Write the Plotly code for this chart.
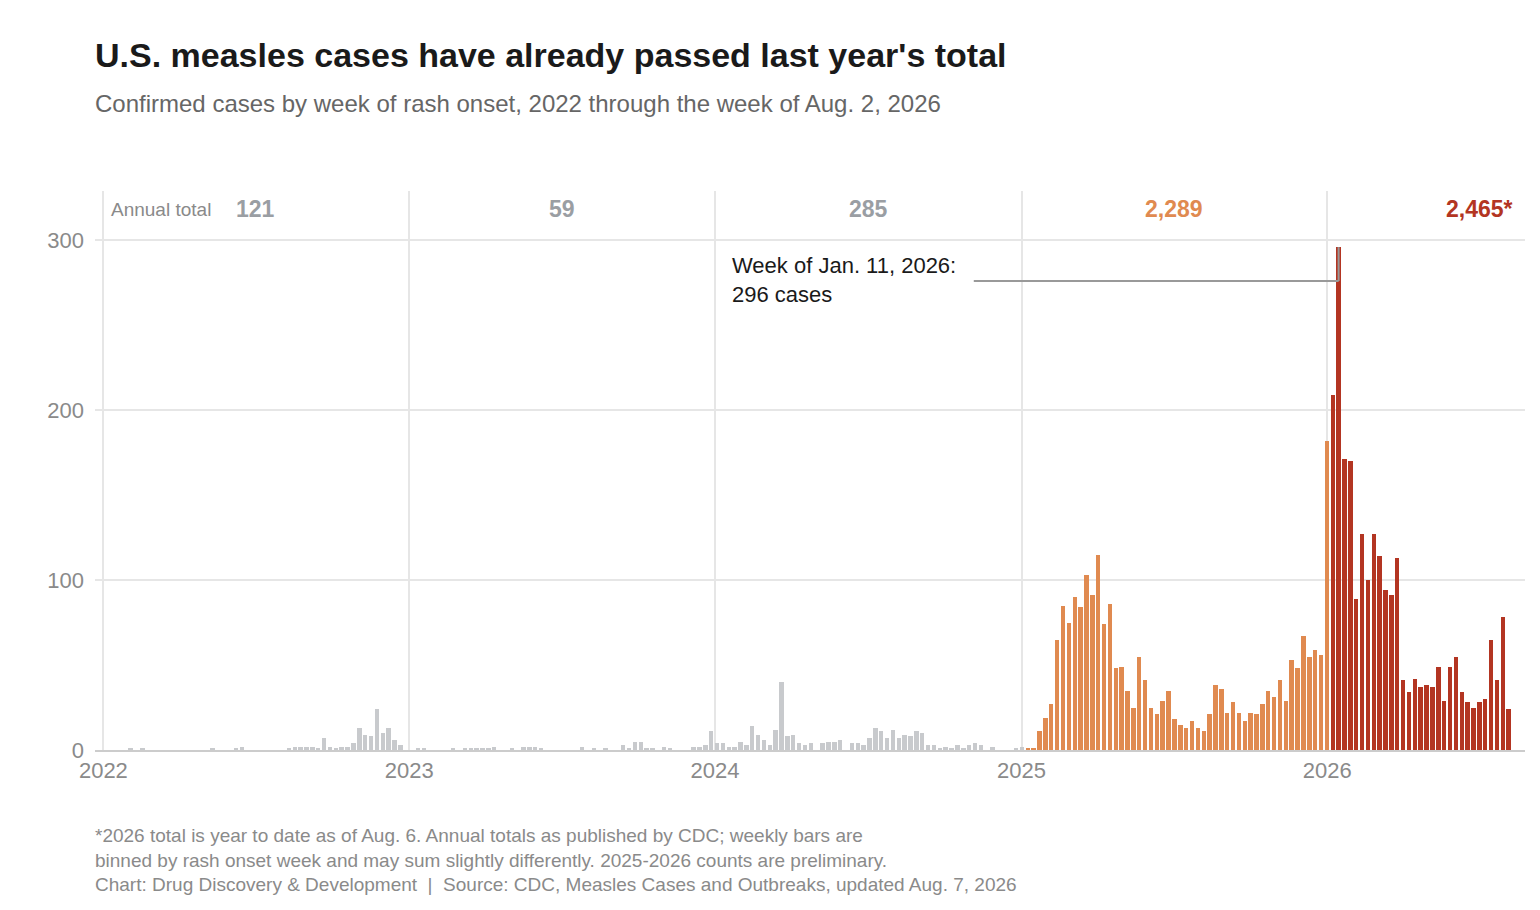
import pandas as pd
import plotly.graph_objects as go

# weekly confirmed cases, week starting Sunday
cases_2022 = [0, 0, 0, 0, 1, 0, 1, 0, 0, 0, 0, 0, 0, 0, 0, 0, 0, 0, 1, 0, 0, 0, 1, 2, 0, 0,
              0, 0, 0, 0, 0, 1, 2, 2, 2, 2, 1, 7, 2, 1, 2, 2, 4, 13, 9, 8, 24, 10, 13, 6, 3, 0]
cases_2023 = [0, 1, 1, 0, 0, 0, 0, 1, 0, 1, 1, 1, 1, 1, 2, 0, 0, 1, 0, 2, 2, 2, 1, 0, 0, 0,
              0, 0, 0, 2, 0, 1, 0, 1, 0, 0, 3, 1, 5, 5, 1, 1, 0, 2, 1, 0, 0, 0, 2, 2, 3, 11, 4]
cases_2024 = [4, 2, 2, 5, 3, 14, 9, 6, 3, 12, 40, 8, 9, 4, 3, 4, 0, 4, 5, 5, 6, 0, 4, 4, 3, 7,
              13, 11, 7, 12, 7, 9, 8, 11, 10, 3, 3, 1, 2, 1, 3, 1, 3, 4, 3, 0, 2, 0, 0, 0, 1, 2]
cases_2025 = [1, 1, 11, 19, 27, 65, 85, 75, 90, 84, 103, 91, 115, 74, 86, 48, 49, 35, 25, 55,
              41, 25, 21, 29, 35, 18, 15, 13, 17, 13, 11, 21, 38, 36, 22, 28, 22, 17, 22, 21,
              27, 35, 31, 41, 29, 53, 48, 67, 55, 59, 56, 182]
cases_2026 = [209, 296, 171, 170, 89, 127, 100, 127, 114, 94, 91, 113, 41, 34, 42, 37, 38, 37,
              49, 29, 49, 55, 34, 28, 25, 28, 30, 65, 41, 78, 24]

years = ["2022", "2023", "2024", "2025", "2026"]
annual_totals = ["121", "59", "285", "2,289", "2,465*"]

weeks_2022 = pd.date_range("2022-01-02", periods=len(cases_2022), freq="7D")
weeks_2023 = pd.date_range("2023-01-01", periods=len(cases_2023), freq="7D")
weeks_2024 = pd.date_range("2024-01-07", periods=len(cases_2024), freq="7D")
weeks_2025 = pd.date_range("2025-01-05", periods=len(cases_2025), freq="7D")
weeks_2026 = pd.date_range("2026-01-04", periods=len(cases_2026), freq="7D")

GRAY = "#c8cacd"
ORANGE = "#e08a50"
RED = "#b33522"
half = pd.Timedelta(days=3.5)
bar_w = 5.3 * 86400000

fig = go.Figure()
series = [(weeks_2022, cases_2022, GRAY), (weeks_2023, cases_2023, GRAY),
          (weeks_2024, cases_2024, GRAY), (weeks_2025, cases_2025, ORANGE),
          (weeks_2026, cases_2026, RED)]
for wk, vals, col in series:
    fig.add_trace(go.Bar(x=wk + half, y=vals, width=bar_w, marker_color=col,
                         marker_line_width=0, hoverinfo="x+y", showlegend=False))

# plot area in pixels: left 87, right 1517, top 183, bottom 742
def px_x(px):
    return (px - 87) / 1430

def px_y(py):
    return (742 - py) / 559

ann = []
ann.append(dict(text="<b>U.S. measles cases have already passed last year's total</b>",
                x=px_x(85), y=px_y(47), font=dict(size=34, color="#1a1a1a")))
ann.append(dict(text="Confirmed cases by week of rash onset, 2022 through the week of Aug. 2, 2026",
                x=px_x(85), y=px_y(96), font=dict(size=24, color="#666666")))
ann.append(dict(text="*2026 total is year to date as of Aug. 6. Annual totals as published by CDC; weekly bars are<br>"
                     "binned by rash onset week and may sum slightly differently. 2025-2026 counts are preliminary.<br>"
                     "Chart: Drug Discovery &amp; Development  |  Source: CDC, Measles Cases and Outbreaks, updated Aug. 7, 2026",
                x=px_x(85), y=px_y(852), font=dict(size=19, color="#8a8a8a")))
ann.append(dict(text="Annual total", x=px_x(101), y=px_y(201),
                font=dict(size=19, color="#8a8a8a")))
for a in ann:
    a.update(xref="paper", yref="paper", xanchor="left", yanchor="middle",
             showarrow=False, align="left")

total_colors = ["#9a9ea3", "#9a9ea3", "#9a9ea3", ORANGE, RED]
for i, (yr, tot) in enumerate(zip(years, annual_totals)):
    if yr == "2026":
        ann.append(dict(text="<b>" + tot + "</b>", xref="paper", yref="paper",
                        x=px_x(1507), y=px_y(201), xanchor="right", yanchor="middle",
                        showarrow=False, font=dict(size=23, color=total_colors[i])))
    else:
        ann.append(dict(text="<b>" + tot + "</b>", xref="x", yref="paper",
                        x=yr + "-07-02", y=px_y(201), xanchor="center", yanchor="middle",
                        showarrow=False, font=dict(size=23, color=total_colors[i])))

peak_x = weeks_2026[1] + half
peak_y = cases_2026[1]
ann.append(dict(text="Week of Jan. 11, 2026:<br>296 cases", xref="paper", yref="paper",
                x=px_x(722), y=px_y(272), xanchor="left", yanchor="middle", align="left",
                showarrow=False, font=dict(size=22, color="#1a1a1a")))
fig.update_layout(annotations=ann)

fig.add_shape(type="line", x0="2024-11-05", x1=peak_x, y0=276, y1=276,
              line=dict(color="#999999", width=2))
fig.add_shape(type="line", x0=peak_x, x1=peak_x, y0=276, y1=peak_y,
              line=dict(color="#999999", width=2))

fig.update_layout(
    width=1540, height=910,
    margin=dict(l=87, r=23, t=183, b=168),
    plot_bgcolor="white", paper_bgcolor="white",
    font=dict(family="Liberation Sans, Arial, sans-serif"),
    bargap=0,
    xaxis=dict(type="date", range=["2021-12-22", "2026-08-25"],
               tickvals=[y + "-01-01" for y in years], ticktext=years,
               showgrid=True, gridcolor="#e6e6e6", gridwidth=2,
               tickfont=dict(size=22, color="#8a8a8a"), ticks="",
               showline=True, linecolor="#cccccc", linewidth=2, zeroline=False),
    yaxis=dict(range=[0, 329], tickvals=[0, 100, 200, 300],
               showgrid=True, gridcolor="#e6e6e6", gridwidth=2,
               tickfont=dict(size=22, color="#8a8a8a"), ticks="", zeroline=False,
               ticklabelstandoff=10),
)

fig.write_html("out.html")
